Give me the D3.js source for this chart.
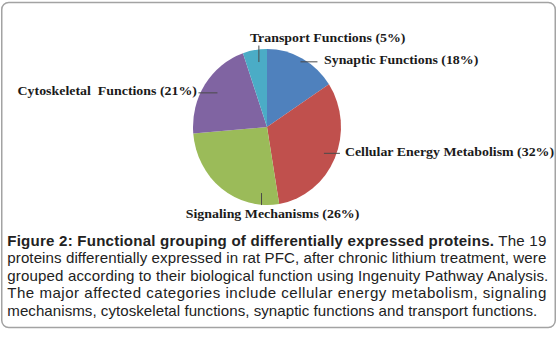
<!DOCTYPE html>
<html>
<head>
<meta charset="utf-8">
<script src="https://cdn.jsdelivr.net/npm/d3@7"></script>
<style>
  html, body { margin: 0; padding: 0; background: #fff; }
  svg { display: block; }
</style>
</head>
<body>
<svg id="chart" width="559" height="339"></svg>
<script>
// ---- data ----
const categories = ["Synaptic Functions", "Cellular Energy Metabolism", "Signaling Mechanisms", "Cytoskeletal  Functions", "Transport Functions"];
// slice sizes as drawn (proportions measured from slice boundaries; 19 proteins)
const sliceValues = [3, 6, 5, 4, 1];
// percentages as printed in the labels
const labelPercents = [18, 32, 26, 21, 5];
const sliceColors = ["#4F81BD", "#C0504D", "#9BBB59", "#8064A2", "#4BACC6"];

const captionBold = "Figure 2: Functional grouping of differentially expressed proteins.";
const captionLines = [
  " The 19",
  "proteins differentially expressed in rat PFC, after chronic lithium treatment, were",
  "grouped according to their biological function using Ingenuity Pathway Analysis.",
  "The major affected categories include cellular energy metabolism, signaling",
  "mechanisms, cytoskeletal functions, synaptic functions and transport functions."
];

// ---- layout ----
const svg = d3.select("#chart");
const cx = 267, cy = 127, rx = 74, ry = 78;

// border
svg.append("rect")
  .attr("x", 1.75).attr("y", 2.5)
  .attr("width", 553.5).attr("height", 325)
  .attr("rx", 7).attr("ry", 7)
  .attr("fill", "#fff")
  .attr("stroke", "#a3a3a3")
  .attr("stroke-width", 1.5);

const data = categories.map((c, i) => ({ name: c, v: sliceValues[i], pct: labelPercents[i], color: sliceColors[i] }));
const pie = d3.pie().sort(null).value(d => d.v);
const arcs = pie(data);
const arc = d3.arc().innerRadius(0).outerRadius(ry);

svg.append("g")
  .attr("transform", `translate(${cx},${cy}) scale(${rx / ry},1)`)
  .selectAll("path")
  .data(arcs)
  .join("path")
  .attr("d", arc)
  .attr("fill", d => d.data.color);

// label leader layout (annotation placement)
const labelLayout = [
  { angle: null, r: 0.95, dx: 17, dy: 0, tx: 23.5, ty: 2.6, anchor: "start" },
  { angle: null, r: 0.84, dx: 16, dy: 0, tx: 21, ty: 2.8, anchor: "start" },
  { angle: 185, r: 0.85, dx: 0, dy: 12, tx: 11, ty: 24.5, anchor: "middle" },
  { angle: null, r: 0.80, dx: -19, dy: 0, tx: -20.5, ty: 1.8, anchor: "end" },
  { angle: 352.5, r: 0.84, dx: 0, dy: -16.5, tx: -9, ty: -19.8, anchor: "start" }
];

const labG = svg.append("g");
arcs.forEach((a, i) => {
  const L = labelLayout[i];
  const ang = L.angle !== null ? L.angle * Math.PI / 180 : (a.startAngle + a.endAngle) / 2;
  const x0 = cx + rx * L.r * Math.sin(ang);
  const y0 = cy - ry * L.r * Math.cos(ang);
  labG.append("line")
    .attr("x1", x0).attr("y1", y0)
    .attr("x2", x0 + L.dx).attr("y2", y0 + L.dy)
    .attr("stroke", "#4a4a4a").attr("stroke-width", 1);
  const tx = x0 + L.tx, ty = y0 + L.ty;
  labG.append("text")
    .attr("transform", `translate(${tx},${ty}) scale(1.03,1)`)
    .attr("text-anchor", L.anchor)
    .style("white-space", "pre")
    .attr("font-family", "'Liberation Serif', 'Times New Roman', serif")
    .attr("font-weight", "bold")
    .attr("font-size", 13.5)
    .attr("fill", "#1a1a1a")
    .text(`${a.data.name} (${a.data.pct}%)`);
});

// caption
const capScale = 1.04;
const capG = svg.append("g").attr("transform", `translate(7.3,0) scale(${capScale},1)`);
const baselines = [246, 263.4, 280.8, 298.2, 315.6];
const justify = [539, 539, 541, 539, 530];
captionLines.forEach((line, i) => {
  const t = capG.append("text")
    .attr("x", 0).attr("y", baselines[i])
    .attr("font-family", "'Liberation Sans', Arial, sans-serif")
    .attr("font-size", 14.5)
    .attr("fill", "#222")
    .style("white-space", "pre");
  if (i === 0) {
    t.append("tspan").attr("font-weight", "bold").text(captionBold);
    t.append("tspan").text(line);
  } else {
    t.text(line);
  }
  if (justify[i]) {
    t.attr("textLength", justify[i] / capScale).attr("lengthAdjust", "spacing");
  }
});
</script>
</body>
</html>
